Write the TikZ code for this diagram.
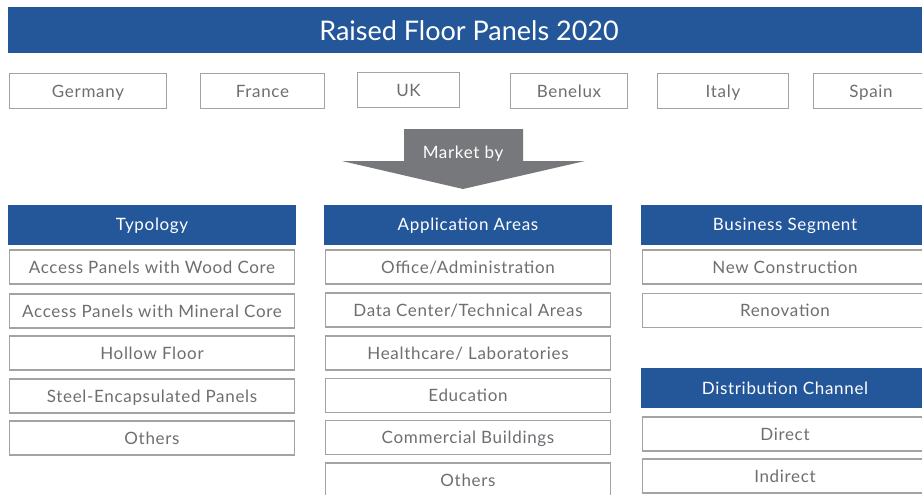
\documentclass[tikz,border=0pt]{standalone}
\usepackage{fontspec}
\setmainfont{Lato}[LetterSpace=4]
\newfontfamily\titlefont{Lato}
\definecolor{headblue}{HTML}{24579A}
\definecolor{boxgrey}{HTML}{A3A3A3}
\definecolor{textgrey}{HTML}{6D6E71}
\definecolor{arrowgrey}{HTML}{77787B}
\begin{document}
\begin{tikzpicture}
    [
        x=1pt, y=-1pt,
        title/.style={rectangle, fill=headblue, text=white, minimum width=922pt, minimum height=46pt, inner sep=0pt, text height=19.3pt, text depth=0pt, font=\titlefont\fontsize{27}{32}\selectfont},
        country/.style={rectangle, draw=boxgrey, line width=1.3pt, text=textgrey, minimum height=35pt, inner sep=0pt, text height=12.2pt, text depth=0pt, font=\fontsize{17}{20}\selectfont},
        header/.style={rectangle, fill=headblue, text=white, minimum width=288pt, minimum height=40pt, inner sep=0pt, text height=12.2pt, text depth=0pt, font=\fontsize{17}{20}\selectfont},
        item/.style={rectangle, draw=boxgrey, line width=1.3pt, text=textgrey, minimum width=285pt, minimum height=34pt, inner sep=0pt, text height=12.2pt, text depth=0pt, font=\fontsize{17}{20}\selectfont},
    ]
    \useasboundingbox (0,0) rectangle (922,495);
    \clip (0,0) rectangle (922,495);
    \node (title) at (469,30.5) [title] {Raised Floor Panels 2020};
    \node (de) at (88,91) [country, minimum width=157pt] {Germany};
    \node (fr) at (262.5,91) [country, minimum width=124pt] {France};
    \node (uk) at (408.5,90) [country, minimum width=102pt] {UK};
    \node (bnl) at (569,91) [country, minimum width=117pt] {Benelux};
    \node (it) at (723,91) [country, minimum width=131pt] {Italy};
    \node (es) at (871,91) [country, minimum width=115pt] {Spain};
    \fill [arrowgrey] (404,129) -- (523,129) -- (523,161) -- (585,161) -- (463,189) -- (342,161) -- (404,161) -- cycle;
    \node (market) at (463,152.5) [text=white, inner sep=0pt, text height=12.2pt, text depth=0pt, font=\fontsize{17}{20}\selectfont] {Market by};
    \node (typ) at (152,224.5) [header] {Typology};
    \node (typ1) at (152,267) [item] {Access Panels with Wood Core};
    \node (typ2) at (152,311) [item] {Access Panels with Mineral Core};
    \node (typ3) at (152,353) [item] {Hollow Floor};
    \node (typ4) at (152,396) [item] {Steel-Encapsulated Panels};
    \node (typ5) at (152,438) [item] {Others};
    \node (app) at (468,224.5) [header] {Application Areas};
    \node (app1) at (468,267) [item] {Office/Administration};
    \node (app2) at (468,310) [item] {Data Center/Technical Areas};
    \node (app3) at (468,353) [item] {Healthcare/ Laboratories};
    \node (app4) at (468,395.5) [item] {Education};
    \node (app5) at (468,437.5) [item] {Commercial Buildings};
    \node (app6) at (468,480) [item] {Others};
    \node (seg) at (785,224.5) [header] {Business Segment};
    \node (seg1) at (785,267) [item] {New Construction};
    \node (seg2) at (785,310.5) [item] {Renovation};
    \node (dist) at (785,388) [header] {Distribution Channel};
    \node (dist1) at (785,434) [item] {Direct};
    \node (dist2) at (785,476) [item] {Indirect};
\end{tikzpicture}
\end{document}
